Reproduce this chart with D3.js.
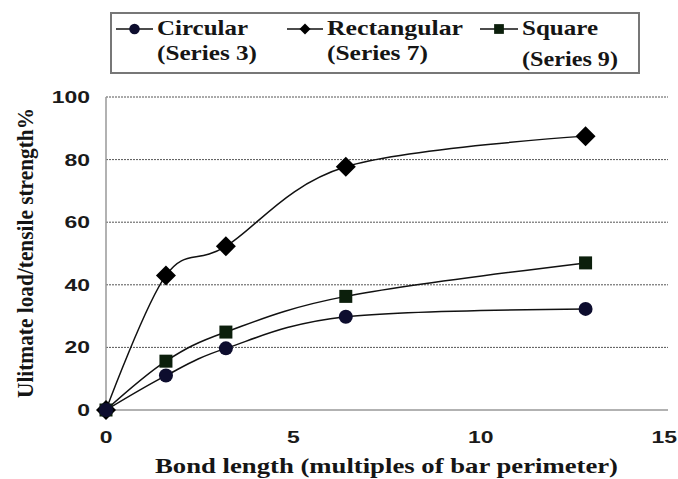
<!DOCTYPE html>
<html><head><meta charset="utf-8">
<script src="https://cdn.jsdelivr.net/npm/d3@7"></script>
<style>body{margin:0;background:#fff}</style>
</head><body>
<svg id="c" width="678" height="479"></svg>
<script>
const bondLength = [0, 1.6, 3.2, 6.4, 12.8];
const circular = [0, 11, 19.7, 29.8, 32.3];
const rectangular = [0, 43, 52.3, 77.7, 87.5];
const square = [0, 15.6, 24.9, 36.3, 47];
const xTicks = [0, 5, 10, 15];
const yTicks = [0, 20, 40, 60, 80, 100];
const seriesNames = ["Circular", "Rectangular", "Square"];
const seriesSub = ["(Series 3)", "(Series 7)", "(Series 9)"];

const svg = d3.select("#c");
const x = d3.scaleLinear().domain([0, 15]).range([106, 668]);
const y = d3.scaleLinear().domain([0, 100]).range([410, 97]);
const SANS = "Liberation Sans, Arial, sans-serif";
const SERIF = "Liberation Serif, Times New Roman, serif";

function stext(parent, tx, ty, sx, anchor, font, size, str) {
  const g = parent.append("g").attr("transform", `translate(${tx},${ty}) scale(${sx},1)`);
  return g.append("text").attr("x", 0).attr("y", 0).attr("text-anchor", anchor)
    .attr("font-family", font).attr("font-size", size).attr("font-weight", "bold")
    .attr("fill", "#1a1a1a").text(str);
}

// gridlines
svg.append("g").selectAll("line").data(yTicks.filter(d => d > 0)).join("line")
  .attr("x1", x(0)).attr("x2", x(15)).attr("y1", d => y(d)).attr("y2", d => y(d))
  .attr("stroke", "#555").attr("stroke-width", 1).attr("stroke-dasharray", "2,1");
// axes lines
svg.append("line").attr("x1", x(0)).attr("x2", x(0)).attr("y1", y(100)).attr("y2", y(0))
  .attr("stroke", "#999").attr("stroke-width", 1.5);
svg.append("line").attr("x1", x(0)).attr("x2", x(15)).attr("y1", y(0)).attr("y2", y(0))
  .attr("stroke", "#999").attr("stroke-width", 1.5);

// tick labels
const tg = svg.append("g");
yTicks.forEach(d => stext(tg, x(0) - 16, y(d) + 6, 1.35, "end", SANS, 17, d));
xTicks.forEach(d => {
  if (d === 15) stext(tg, 677, 443, 1.35, "end", SANS, 17, d);
  else stext(tg, x(d), 443, 1.35, "middle", SANS, 17, d);
});

// axis titles
svg.append("text").attr("x", 155).attr("y", 473)
  .attr("font-family", SERIF).attr("font-size", 22).attr("font-weight", "bold")
  .attr("textLength", 463).attr("lengthAdjust", "spacingAndGlyphs")
  .attr("fill", "#151515").text("Bond length (multiples of bar perimeter)");
svg.append("text").attr("transform", "translate(33,398) rotate(-90)")
  .attr("x", 0).attr("y", 0)
  .attr("font-family", SERIF).attr("font-size", 24).attr("font-weight", "bold")
  .attr("textLength", 290).attr("lengthAdjust", "spacingAndGlyphs")
  .attr("fill", "#151515").text("Ulitmate load/tensile strength%");

const line = d3.line().x(d => x(d[0])).y(d => y(d[1])).curve(d3.curveCardinal.tension(0));
const data = [circular, rectangular, square].map(s => bondLength.map((b, i) => [b, s[i]]));
const colors = ["#0d0d2e", "#000", "#0c1f0c"];

data.forEach(pts => {
  svg.append("path").attr("d", line(pts)).attr("fill", "none").attr("stroke", "#111").attr("stroke-width", 1.5);
});

function marker(g, k, cx, cy) {
  if (k === 0) g.append("circle").attr("cx", cx).attr("cy", cy).attr("r", 7).attr("fill", colors[0]);
  else if (k === 1) g.append("path").attr("d", `M${cx},${cy-10}L${cx+10},${cy}L${cx},${cy+10}L${cx-10},${cy}Z`).attr("fill", colors[1]);
  else g.append("rect").attr("x", cx - 6.5).attr("y", cy - 6.5).attr("width", 13).attr("height", 13).attr("fill", colors[2]);
}
const mg = svg.append("g");
[1, 2, 0].forEach(k => data[k].forEach(p => marker(mg, k, x(p[0]), y(p[1]))));

// legend
svg.append("rect").attr("x", 111).attr("y", 13).attr("width", 528).attr("height", 60)
  .attr("fill", "#fff").attr("stroke", "#777").attr("stroke-width", 2);
const lx = [116, 287, 480];
const tx = [157, 327, 522];
const ly = 29;
const ly2 = [60, 60, 66];
const lw = [91, 136, 76];
const lw2 = [100, 101, 96];
const lg = svg.append("g");
seriesNames.forEach((n, k) => {
  lg.append("line").attr("x1", lx[k]).attr("x2", tx[k] - 4).attr("y1", ly).attr("y2", ly)
    .attr("stroke", "#111").attr("stroke-width", 1.5);
  const g2 = lg.append("g").attr("transform", `translate(${(lx[k] + tx[k] - 4) / 2},${ly}) scale(${k === 1 ? 0.55 : 0.75})`);
  marker(g2, k, 0, 0);
  lg.append("text").attr("x", tx[k]).attr("y", 35)
    .attr("font-family", SERIF).attr("font-size", 22).attr("font-weight", "bold")
    .attr("textLength", lw[k]).attr("lengthAdjust", "spacingAndGlyphs")
    .attr("fill", "#151515").text(n);
  lg.append("text").attr("x", tx[k]).attr("y", ly2[k])
    .attr("font-family", SERIF).attr("font-size", 22).attr("font-weight", "bold")
    .attr("textLength", lw2[k]).attr("lengthAdjust", "spacingAndGlyphs")
    .attr("fill", "#151515").text(seriesSub[k]);
});
</script>
</body></html>
